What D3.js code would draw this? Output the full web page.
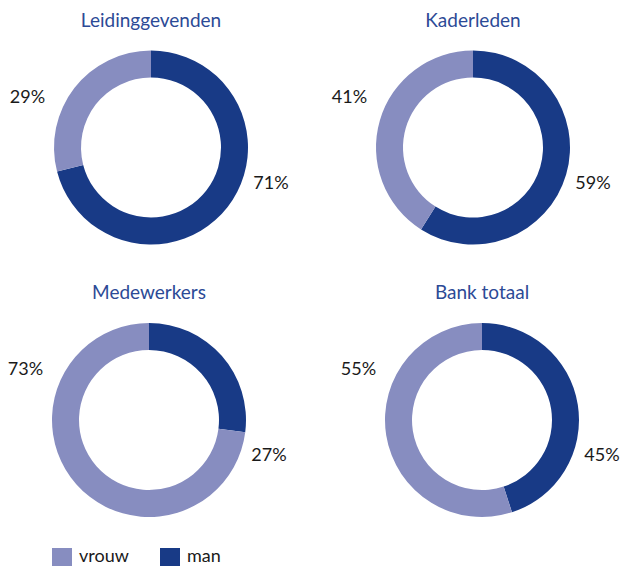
<!DOCTYPE html>
<html>
<head>
<meta charset="utf-8">
<script src="https://cdn.jsdelivr.net/npm/d3@7"></script>
<style>
  html, body { margin: 0; padding: 0; background: #fff; }
  svg { display: block; font-family: Lato, "Open Sans", sans-serif; }
  .title { fill: #2c4a96; font-size: 19px; text-anchor: middle; }
  .pct { fill: #1a1a1a; font-size: 18px; text-anchor: middle; dominant-baseline: central; }
  .legend { fill: #1a1a1a; font-size: 18px; }
</style>
</head>
<body>
<script>
'use strict';

// data
const groups = ["Leidinggevenden", "Kaderleden", "Medewerkers", "Bank totaal"];
const series = ["man", "vrouw"];
const manValues = [71, 59, 27, 45];
const vrouwValues = [29, 41, 73, 55];
const legendLabels = ["vrouw", "man"];

const width = 624, height = 566;
const colors = { man: "#183a86", vrouw: "#878dc0" };

// donut centres (layout)
const centers = [[151, 147.5], [473, 147.5], [149, 420], [482, 420]];
const outerR = 97, innerR = 70;

const svg = d3.select("body").append("svg")
  .attr("width", width)
  .attr("height", height);

const pie = d3.pie()
  .sort(null)
  .value((d) => d.value);

const arc = d3.arc()
  .innerRadius(innerR)
  .outerRadius(outerR);

// fixed label offsets, like the original
const labelOffset = { man: [120, 34], vrouw: [-123.5, -52] };

groups.forEach((g, i) => {
  const rows = [
    { key: "man", value: manValues[i] },
    { key: "vrouw", value: vrouwValues[i] }
  ];
  const c = centers[i];
  const grp = svg.append("g")
    .attr("transform", "translate(" + c[0] + "," + c[1] + ")");

  grp.selectAll("path")
    .data(pie(rows))
    .enter()
    .append("path")
      .attr("d", arc)
      .attr("fill", (d) => colors[d.data.key]);

  grp.append("text")
    .attr("class", "title")
    .attr("x", 0)
    .attr("y", -121)
    .text(g);

  grp.selectAll("text.pct")
    .data(rows)
    .enter()
    .append("text")
      .attr("class", "pct")
      .attr("x", (d) => labelOffset[d.key][0])
      .attr("y", (d) => labelOffset[d.key][1])
      .text((d) => d.value + "%");
});

// legend
const legendX = [52, 160];
const leg = svg.selectAll("g.leg")
  .data(legendLabels)
  .enter()
  .append("g")
    .attr("class", "leg")
    .attr("transform", (d, i) => "translate(" + legendX[i] + ",548)");

leg.append("rect")
  .attr("width", 20)
  .attr("height", 18)
  .attr("fill", (d) => colors[d]);

leg.append("text")
  .attr("class", "legend")
  .attr("x", 27)
  .attr("y", 14)
  .text((d) => d);
</script>
</body>
</html>
